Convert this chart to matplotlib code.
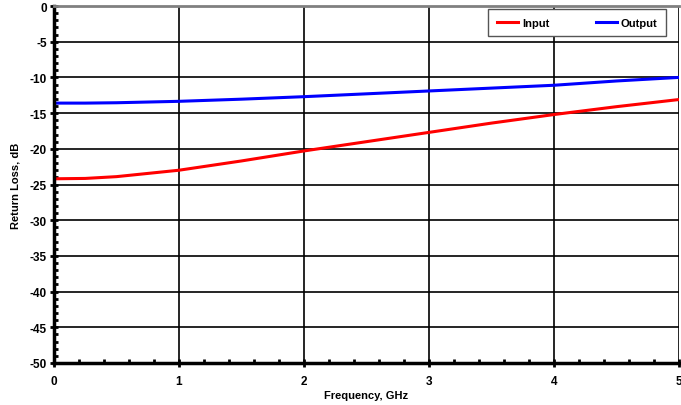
import matplotlib.pyplot as plt
import numpy as np
from matplotlib.ticker import MultipleLocator

freq = [0, 0.25, 0.5, 1.0, 1.5, 2.0, 2.5, 3.0, 3.5, 4.0, 4.5, 5.0]
input_rl = [-24.2, -24.15, -23.9, -23.0, -21.7, -20.3, -19.0, -17.7, -16.4, -15.2, -14.1, -13.1]
output_rl = [-13.6, -13.6, -13.55, -13.35, -13.05, -12.7, -12.3, -11.9, -11.5, -11.1, -10.5, -10.0]

plt.rcParams['font.family'] = ['Liberation Sans', 'DejaVu Sans']
plt.rcParams['font.weight'] = 'bold'
plt.rcParams['axes.unicode_minus'] = False

fig = plt.figure(figsize=(6.81, 4.06), dpi=100)
ax = fig.add_axes([54/681, 1 - 364/406, 625/681, 357/406])

ax.plot(freq, input_rl, color='#ff0000', lw=2.2, label='Input')
ax.plot(freq, output_rl, color='#0000ff', lw=2.2, label='Output')

ax.set_xlim(0, 5)
ax.set_ylim(-50, 0)
ax.xaxis.set_major_locator(MultipleLocator(1))
ax.xaxis.set_minor_locator(MultipleLocator(0.2))
ax.yaxis.set_major_locator(MultipleLocator(5))
ax.yaxis.set_minor_locator(MultipleLocator(1))
ax.grid(True, which='major', color='black', lw=1.2)

ax.tick_params(axis='both', which='major', direction='inout', length=6, width=2,
               labelsize=8.5)
ax.tick_params(axis='both', which='minor', direction='in', length=3, width=2)
ax.tick_params(axis='y', pad=2)
ax.tick_params(axis='x', pad=6)
for t in ax.get_xticklabels() + ax.get_yticklabels():
    t.set_fontweight('bold')

ax.spines['left'].set_linewidth(2.5)
ax.spines['bottom'].set_linewidth(2.5)
ax.spines['top'].set_color('#808080')
ax.spines['top'].set_linewidth(2)
ax.spines['right'].set_visible(False)

ax.set_xlabel('Frequency, GHz', fontsize=8, fontweight='bold', labelpad=2)
ax.set_ylabel('Return Loss, dB', fontsize=8, fontweight='bold', labelpad=7)

leg = ax.legend(loc='upper right', ncol=2, frameon=True, fancybox=False,
                prop={'size': 8, 'weight': 'bold'},
                handlelength=1.9, handletextpad=0.3, columnspacing=4.2,
                borderpad=0.8, bbox_to_anchor=(0.988, 1.008))
leg.get_frame().set_edgecolor('#555555')
leg.get_frame().set_linewidth(1.0)
leg.get_frame().set_alpha(1)

plt.savefig('out.png', dpi=100)
